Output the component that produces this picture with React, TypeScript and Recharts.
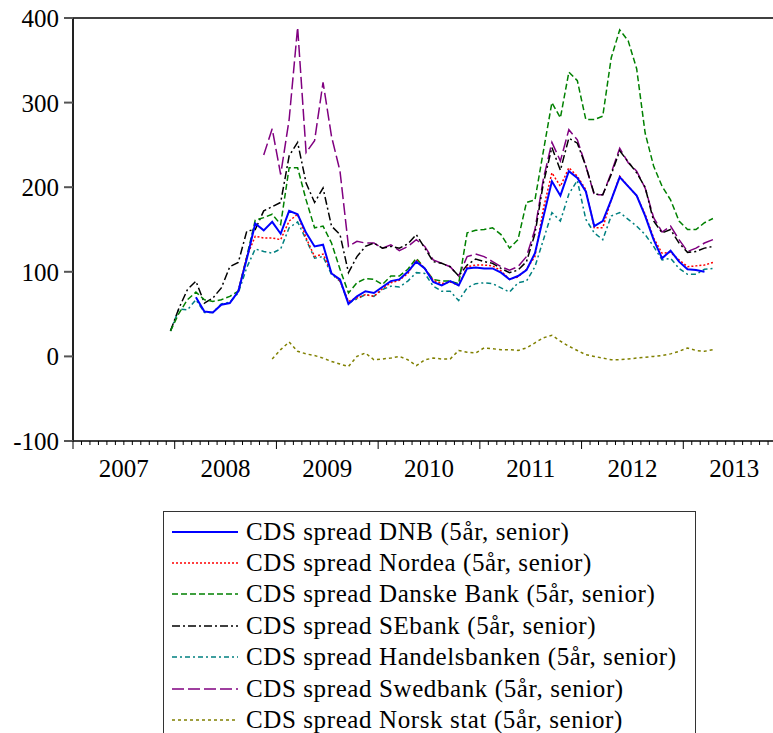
import React from 'react';
import { LineChart, Line, XAxis, YAxis, ReferenceLine, Legend } from 'recharts';

// monthly observations, Dec 2007 .. Apr 2013
const firstYear = 2007;
const firstMonth = 12;
const yearLabels = ['2007', '2008', '2009', '2010', '2011', '2012', '2013'];
const yTicks = [-100, 0, 100, 200, 300, 400];

const dnb = [
  null, null, null, 70, 53, 52, 61, 63, 77, 115, 157, 149, 159,
  145, 172, 168, 146, 130, 132, 98, 91, 62, 71, 77, 75,
  82, 89, 91, 100, 112, 104, 88, 84, 89, 84, 104, 105,
  104, 104, 99, 91, 95, 102, 122, 165, 207, 190, 219, 211,
  195, 154, 160, 185, 212, 201, 190, 166, 138, 116, 125, 112,
  103, 102, 100, null,
];
const nordea = [
  null, null, null, null, null, null, null, null, 77, 118, 142, 140, 140,
  138, 160, 168, 140, 118, 121, 99, 89, 65, 69, 73, 71,
  80, 87, 90, 98, 114, 104, 90, 86, 88, 84, 106, 108,
  108, 107, 101, 91, 94, 103, 118, 175, 217, 201, 223, 213,
  197, 152, 152, 185, 213, 201, 190, 168, 140, 122, 123, 114,
  106, 107, 108, 111,
];
const danske = [
  30, 51, 67, 76, 67, 65, 67, 71, 77, 118, 161, 164, 168,
  156, 223, 223, 185, 152, 154, 134, 103, 75, 87, 92, 91,
  85, 95, 95, 103, 116, 104, 91, 89, 89, 86, 146, 149,
  150, 152, 144, 128, 138, 182, 185, 243, 300, 282, 336, 326,
  280, 280, 284, 353, 386, 373, 340, 264, 225, 201, 185, 160,
  150, 150, 158, 163,
];
const seb = [
  30, 57, 79, 89, 63, 69, 81, 106, 111, 148, 150, 172, 177,
  182, 237, 253, 205, 182, 199, 154, 144, 99, 118, 130, 134,
  128, 130, 128, 133, 144, 128, 112, 110, 106, 95, 108, 115,
  112, 110, 104, 99, 102, 112, 145, 205, 247, 220, 258, 252,
  225, 192, 191, 215, 243, 230, 217, 200, 160, 146, 150, 134,
  123, 124, 128, 130,
];
const handels = [
  30, 56, 55, 67, 52, 52, 62, 64, 75, 105, 127, 124, 122,
  127, 152, 159, 138, 116, 118, 97, 89, 63, 68, 73, 71,
  79, 83, 82, 89, 99, 98, 83, 77, 77, 66, 81, 86,
  87, 86, 81, 76, 87, 89, 106, 138, 170, 160, 192, 208,
  162, 146, 138, 166, 170, 162, 154, 144, 130, 114, 116, 104,
  97, 97, 103, 104,
];
const swed = [
  null, null, null, null, null, null, null, null, null, null, null, 238, 269,
  215, 280, 389, 241, 255, 324, 260, 219, 130, 136, 134, 134,
  128, 132, 125, 130, 138, 130, 114, 110, 106, 95, 118, 121,
  118, 112, 106, 102, 106, 118, 150, 210, 253, 231, 268, 256,
  225, 191, 191, 217, 246, 229, 219, 199, 164, 147, 154, 138,
  124, 128, 134, 138,
];
const norsk = [
  null, null, null, null, null, null, null, null, null, null, null, null, -3,
  8, 17, 6, 3, 1, -2, -6, -9, -12, 0, 4, -4,
  -3, -2, 0, -4, -11, -4, -2, -3, -3, 7, 5, 4,
  10, 9, 8, 8, 7, 10, 16, 22, 25, 18, 12, 7,
  2, 0, -2, -4, -4, -3, -2, -1, 0, 1, 3, 6,
  10, 7, 6, 8,
];

const series = [
  { key: 'dnb', name: 'CDS spread DNB (5år, senior)', color: '#0000ff', dash: undefined, width: 2 },
  { key: 'nordea', name: 'CDS spread Nordea (5år, senior)', color: '#ff0000', dash: '2 2', width: 1.5 },
  { key: 'danske', name: 'CDS spread Danske Bank (5år, senior)', color: '#008000', dash: '6 3', width: 1.5 },
  { key: 'seb', name: 'CDS spread SEbank (5år, senior)', color: '#000000', dash: '8 3 2 3', width: 1.5 },
  { key: 'handels', name: 'CDS spread Handelsbanken (5år, senior)', color: '#008080', dash: '5 3 2 3', width: 1.5 },
  { key: 'swed', name: 'CDS spread Swedbank (5år, senior)', color: '#800080', dash: '12 4', width: 1.5 },
  { key: 'norsk', name: 'CDS spread Norsk stat (5år, senior)', color: '#808000', dash: '3 3', width: 1.5 },
];

const months = dnb.map((_, i) => {
  const idx = firstMonth - 1 + i;
  const y = firstYear + Math.floor(idx / 12);
  const m = (idx % 12) + 1;
  return `${y}-${String(m).padStart(2, '0')}`;
});

const data = months.map((label, i) => {
  const [y, m] = label.split('-').map(Number);
  return {
    month: label,
    t: (y - firstYear) * 12 + (m - 1) + 0.5,
    dnb: dnb[i], nordea: nordea[i], danske: danske[i], seb: seb[i],
    handels: handels[i], swed: swed[i], norsk: norsk[i],
  };
});

const monthTicks = Array.from({ length: yearLabels.length * 12 + 1 }, (_, i) => i);
const FONT = "'Liberation Serif', 'Times New Roman', Tinos, 'DejaVu Serif', 'Noto Serif', Times, serif";

const MonthTick = (props: any) => {
  const { x, y, payload } = props;
  const m = payload.value as number;
  const major = m % 12 === 0;
  const label = m % 12 === 6 ? yearLabels[(m - 6) / 12] : null;
  return (
    <g>
      <line x1={x} x2={x} y1={y} y2={y + (major ? 8 : 4)} stroke="#000" strokeWidth={1} />
      {label && (
        <text x={x} y={y + 36} textAnchor="middle" style={{ fontSize: 25, fontFamily: FONT }} fill="#000">
          {label}
        </text>
      )}
    </g>
  );
};

const YTick = (props: any) => {
  const { x, y, payload } = props;
  return (
    <text x={x} y={y} dy={9} textAnchor="end" style={{ fontSize: 25, fontFamily: FONT }} fill="#000">
      {payload.value}
    </text>
  );
};

const LegendBox = () => (
  <div
    style={{
      width: 533,
      height: 240,
      border: '1px solid #333',
      background: '#fff',
      boxSizing: 'border-box',
      paddingTop: 4,
      fontFamily: FONT,
      fontSize: 25,
      letterSpacing: 0.6,
      color: '#000',
    }}
  >
    {series.map((s) => (
      <div key={s.key} style={{ display: 'flex', alignItems: 'center', height: 31.4, whiteSpace: 'nowrap' }}>
        <svg width={82} height={10} style={{ flex: 'none' }}>
          <line x1={8} x2={74} y1={5} y2={5} stroke={s.color} strokeWidth={s.width} strokeDasharray={s.dash} />
        </svg>
        <span>{s.name}</span>
      </div>
    ))}
  </div>
);

// draw order: DNB on top
const drawOrder = ['norsk', 'swed', 'handels', 'seb', 'danske', 'nordea', 'dnb'];

export default function App() {
  return (
    <div style={{ position: 'absolute', left: 0, top: 0, width: 773, height: 733, overflow: 'hidden', background: '#fff' }}>
      <LineChart width={800} height={733} data={data} margin={{ top: 18, right: 15, left: 0, bottom: 252 }}>
        <XAxis
          dataKey="t"
          type="number"
          domain={[0, yearLabels.length * 12]}
          ticks={monthTicks}
          interval={0}
          tickLine={false}
          tickSize={0}
          tickMargin={0}
          height={40}
          axisLine={{ stroke: '#000', strokeWidth: 1.5 }}
          tick={<MonthTick />}
        />
        <YAxis
          type="number"
          domain={[-100, 400]}
          ticks={yTicks}
          interval={0}
          width={73}
          tickSize={9}
          tickMargin={5}
          axisLine={{ stroke: '#222', strokeWidth: 2 }}
          tickLine={{ stroke: '#555', strokeWidth: 2 }}
          tick={<YTick />}
        />
        <ReferenceLine y={400} stroke="#000" strokeWidth={1.5} />
        <Legend
          layout="vertical"
          align="center"
          verticalAlign="middle"
          content={<LegendBox />}
          wrapperStyle={{ left: 163, top: 511, width: 533 }}
        />
        {drawOrder.map((k) => {
          const s = series.find((x) => x.key === k)!;
          return (
            <Line
              key={s.key}
              dataKey={s.key}
              name={s.name}
              stroke={s.color}
              strokeWidth={s.width}
              strokeDasharray={s.dash}
              dot={false}
              activeDot={false}
              isAnimationActive={false}
              type="linear"
            />
          );
        })}
      </LineChart>
    </div>
  );
}
